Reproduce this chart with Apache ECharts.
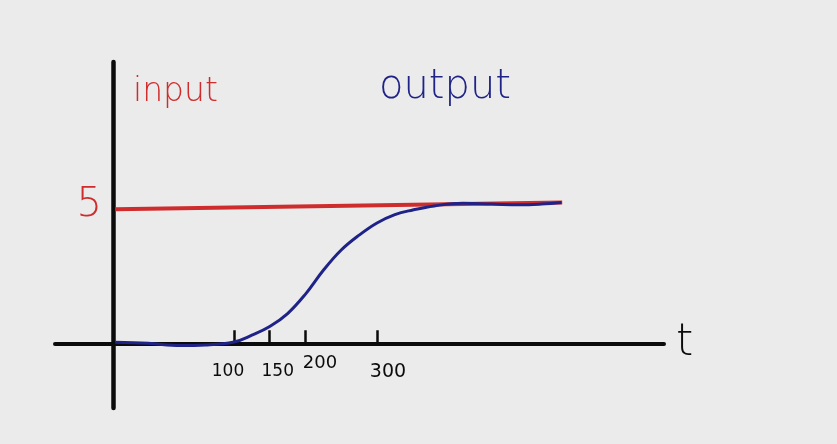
<!DOCTYPE html>
<html>
<head>
<meta charset="utf-8">
<script src="https://cdn.jsdelivr.net/npm/echarts@6/dist/echarts.min.js"></script>
<style>
  html, body { margin: 0; padding: 0; background: #ebebeb; }
  #chart { width: 837px; height: 444px; }
</style>
</head>
<body>
<div id="chart"></div>
<script>
// tick marks / labels on the t axis
const tickValues = [100, 150, 200, 300]
// labelled level on the vertical axis
const levelValues = [5]
// input (red step, drawn by hand so it rises a little)
const inputT = [-66, 559]
const inputV = [4.96, 5.21]
// output (blue response)
const outputT = [-66, -20, 25, 60, 100, 125, 150, 175, 200, 225, 250, 275, 300, 325, 350, 380, 420, 460, 500, 530, 558]
const outputV = [0.04, 0.00, -0.08, -0.06, 0.05, 0.30, 0.62, 1.10, 1.82, 2.70, 3.45, 4.00, 4.45, 4.76, 4.93, 5.08, 5.18, 5.15, 5.12, 5.15, 5.21]

const red = '#cf2d2d'
const blue = '#1f2388'
const ink = '#0b0b0b'
const font = '"DejaVu Sans", sans-serif'

const myChart = echarts.init(document.getElementById('chart'))

const lbl = (pad, size) => ({ color: ink, fontSize: size, fontWeight: 'normal', padding: pad })

const option = {
  backgroundColor: '#ebebeb',
  animation: false,
  textStyle: { fontFamily: font },
  grid: { left: 55, right: 173, top: 62, bottom: 36, outerBoundsMode: 'none' },
  xAxis: {
    type: 'value',
    min: -150.3,
    max: 701.4,
    name: 't',
    nameLocation: 'end',
    nameGap: 12,
    nameTextStyle: { color: ink, fontSize: 44, fontWeight: 200, verticalAlign: 'middle', padding: [0, 0, 10, 0] },
    axisLine: { onZero: true, lineStyle: { color: ink, width: 4 } },
    axisTick: { show: true, inside: true, length: 13, customValues: tickValues, lineStyle: { color: ink, width: 2.5 } },
    axisLabel: {
      customValues: tickValues,
      margin: -36,
      verticalAlign: 'middle',
      color: ink,
      fontSize: 17,
      formatter: v => '{t' + v + '|' + v + '}',
      rich: {
        t100: lbl([0, 12, 0, 0], 17),
        t150: lbl([0, 0, 0, 16], 17),
        t200: lbl([0, 0, 18, 29], 18),
        t300: lbl([0, 0, 0, 22], 19)
      }
    },
    splitLine: { show: false }
  },
  yAxis: {
    type: 'value',
    min: -2.39,
    max: 10.4,
    offset: -58,
    axisLine: { show: true, onZero: false, lineStyle: { color: ink, width: 4.5 } },
    axisTick: { show: false },
    axisLabel: {
      customValues: levelValues,
      margin: 11,
      color: red,
      fontSize: 40,
      fontWeight: 200,
      formatter: v => '{a|' + v + '}',
      rich: { a: { fontSize: 40, fontWeight: 200, color: red, padding: [0, 0, 5, 0] } }
    },
    splitLine: { show: false }
  },
  graphic: [
    { type: 'text', x: 133, y: 92, style: { text: 'input', fill: red, font: '200 33px ' + font, verticalAlign: 'middle' } },
    { type: 'text', x: 379, y: 88, style: { text: 'output', fill: blue, font: '200 40px ' + font, verticalAlign: 'middle' } }
  ],
  series: [
    {
      name: 'input',
      type: 'line',
      data: inputT.map((t, i) => [t, inputV[i]]),
      showSymbol: false,
      lineStyle: { color: red, width: 4 },
      itemStyle: { color: red }
    },
    {
      name: 'output',
      type: 'line',
      smooth: 0.4,
      data: outputT.map((t, i) => [t, outputV[i]]),
      showSymbol: false,
      lineStyle: { color: blue, width: 3 },
      itemStyle: { color: blue }
    }
  ]
}
myChart.setOption(option)
</script>
</body>
</html>
